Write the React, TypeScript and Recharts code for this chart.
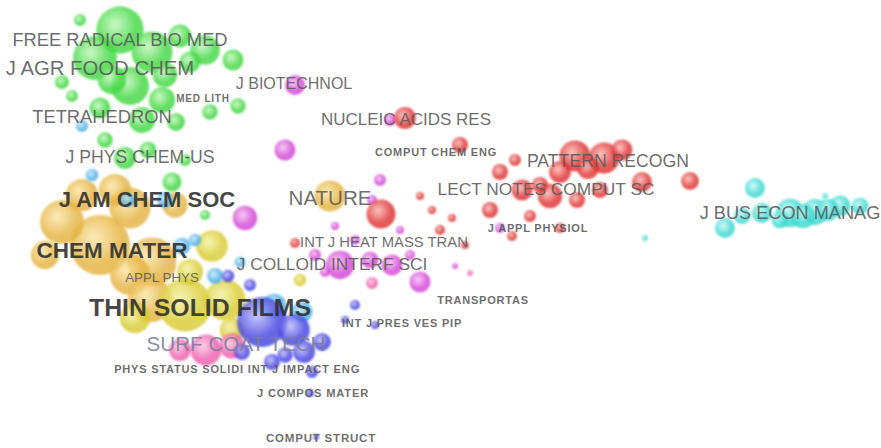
import React from 'react';
import { ScatterChart, Scatter, XAxis, YAxis, ZAxis } from 'recharts';

// map coordinates (x, y) and item weight w (bubble area ~ w)
const green = [
  { x: 120, y: 30, w: 560 }, { x: 95, y: 58, w: 480 }, { x: 152, y: 52, w: 420 },
  { x: 130, y: 86, w: 360 }, { x: 80, y: 20, w: 36 }, { x: 205, y: 50, w: 220 },
  { x: 233, y: 60, w: 110 }, { x: 180, y: 36, w: 130 }, { x: 162, y: 100, w: 170 },
  { x: 142, y: 120, w: 170 }, { x: 176, y: 122, w: 80 }, { x: 238, y: 106, w: 60 },
  { x: 72, y: 96, w: 36 }, { x: 105, y: 140, w: 60 }, { x: 125, y: 158, w: 120 },
  { x: 148, y: 150, w: 70 }, { x: 172, y: 182, w: 90 }, { x: 205, y: 215, w: 25 },
  { x: 210, y: 112, w: 60 }, { x: 100, y: 108, w: 110 }, { x: 62, y: 82, w: 50 },
  { x: 185, y: 160, w: 36 }, { x: 112, y: 80, w: 200 }, { x: 165, y: 75, w: 150 },
  { x: 190, y: 62, w: 110 },
];
const gold = [
  { x: 100, y: 245, w: 900 }, { x: 62, y: 222, w: 480 }, { x: 130, y: 208, w: 420 },
  { x: 152, y: 262, w: 600 }, { x: 330, y: 196, w: 240 }, { x: 82, y: 195, w: 260 },
  { x: 45, y: 255, w: 200 }, { x: 115, y: 190, w: 260 }, { x: 175, y: 205, w: 160 },
  { x: 130, y: 275, w: 400 }, { x: 150, y: 300, w: 500 },
];
const yellow = [
  { x: 185, y: 305, w: 700 }, { x: 225, y: 300, w: 420 }, { x: 212, y: 246, w: 250 },
  { x: 135, y: 318, w: 230 }, { x: 232, y: 330, w: 150 }, { x: 190, y: 272, w: 170 },
  { x: 300, y: 280, w: 40 },
];
const lightBlue = [
  { x: 82, y: 126, w: 36 }, { x: 92, y: 175, w: 40 }, { x: 165, y: 200, w: 64 },
  { x: 182, y: 246, w: 70 }, { x: 215, y: 276, w: 64 }, { x: 302, y: 312, w: 110 },
  { x: 274, y: 306, w: 150 }, { x: 195, y: 240, w: 40 }, { x: 240, y: 262, w: 30 },
  { x: 128, y: 200, w: 50 },
];
const blue = [
  { x: 262, y: 322, w: 620 }, { x: 294, y: 330, w: 250 }, { x: 304, y: 352, w: 120 },
  { x: 242, y: 352, w: 64 }, { x: 322, y: 342, w: 80 }, { x: 272, y: 362, w: 64 },
  { x: 355, y: 305, w: 25 }, { x: 312, y: 372, w: 36 }, { x: 345, y: 320, w: 16 },
  { x: 375, y: 325, w: 16 }, { x: 310, y: 393, w: 16 }, { x: 316, y: 437, w: 9 },
  { x: 250, y: 285, w: 36 }, { x: 228, y: 276, w: 40 }, { x: 285, y: 355, w: 60 },
];
const pink = [
  { x: 206, y: 350, w: 240 }, { x: 232, y: 346, w: 160 }, { x: 180, y: 350, w: 120 },
  { x: 372, y: 283, w: 36 }, { x: 470, y: 273, w: 9 },
];
const magenta = [
  { x: 295, y: 85, w: 100 }, { x: 285, y: 150, w: 110 }, { x: 245, y: 218, w: 150 },
  { x: 380, y: 180, w: 36 }, { x: 372, y: 200, w: 25 }, { x: 340, y: 265, w: 200 },
  { x: 392, y: 265, w: 110 }, { x: 420, y: 282, w: 110 }, { x: 370, y: 260, w: 70 },
  { x: 355, y: 240, w: 25 }, { x: 400, y: 230, w: 16 }, { x: 410, y: 255, w: 25 },
  { x: 455, y: 266, w: 9 }, { x: 335, y: 226, w: 16 }, { x: 315, y: 255, w: 36 },
  { x: 325, y: 272, w: 25 }, { x: 390, y: 120, w: 36 }, { x: 500, y: 228, w: 25 },
];
const red = [
  { x: 405, y: 118, w: 120 }, { x: 381, y: 214, w: 210 }, { x: 440, y: 230, w: 25 },
  { x: 460, y: 145, w: 64 }, { x: 500, y: 172, w: 64 }, { x: 522, y: 190, w: 110 },
  { x: 490, y: 210, w: 64 }, { x: 550, y: 196, w: 150 }, { x: 575, y: 156, w: 240 },
  { x: 604, y: 158, w: 240 }, { x: 622, y: 150, w: 110 }, { x: 560, y: 172, w: 120 },
  { x: 642, y: 182, w: 100 }, { x: 690, y: 181, w: 80 }, { x: 530, y: 216, w: 36 },
  { x: 560, y: 228, w: 25 }, { x: 420, y: 196, w: 16 }, { x: 432, y: 210, w: 16 },
  { x: 577, y: 200, w: 64 }, { x: 515, y: 160, w: 36 }, { x: 600, y: 190, w: 64 },
  { x: 540, y: 185, w: 64 }, { x: 295, y: 243, w: 25 }, { x: 465, y: 245, w: 16 },
  { x: 452, y: 218, w: 16 }, { x: 512, y: 236, w: 25 }, { x: 588, y: 168, w: 120 },
];
const cyan = [
  { x: 755, y: 188, w: 100 }, { x: 725, y: 228, w: 100 }, { x: 742, y: 216, w: 64 },
  { x: 762, y: 213, w: 100 }, { x: 790, y: 213, w: 200 }, { x: 815, y: 212, w: 170 },
  { x: 840, y: 206, w: 110 }, { x: 860, y: 206, w: 70 }, { x: 780, y: 220, w: 70 },
  { x: 645, y: 238, w: 9 }, { x: 825, y: 196, w: 9 }, { x: 803, y: 216, w: 150 },
  { x: 828, y: 210, w: 120 },
];

// labelled items: name, map position and weight (font size follows weight)
const labels = [
  { name: 'FREE RADICAL BIO MED', x: 120, y: 39, w: 74 },
  { name: 'J AGR FOOD CHEM', x: 100, y: 68, w: 86 },
  { name: 'TETRAHEDRON', x: 102, y: 116, w: 74 },
  { name: 'MED LITH', x: 203, y: 98, w: 24 },
  { name: 'J BIOTECHNOL', x: 294, y: 83, w: 60 },
  { name: 'NUCLEIC ACIDS RES', x: 406, y: 119, w: 66 },
  { name: 'COMPUT CHEM ENG', x: 436, y: 152, w: 30 },
  { name: 'PATTERN RECOGN', x: 608, y: 161, w: 70 },
  { name: 'LECT NOTES COMPUT SC', x: 546, y: 189, w: 68 },
  { name: 'J BUS ECON MANAG', x: 790, y: 213, w: 73 },
  { name: 'J PHYS CHEM-US', x: 140, y: 157, w: 70 },
  { name: 'J AM CHEM SOC', x: 147, y: 199, w: 96 },
  { name: 'NATURE', x: 330, y: 197, w: 87 },
  { name: 'CHEM MATER', x: 112, y: 250, w: 99 },
  { name: 'INT J HEAT MASS TRAN', x: 384, y: 242, w: 53 },
  { name: 'J APPL PHYSIOL', x: 538, y: 228, w: 30 },
  { name: 'J COLLOID INTERF SCI', x: 332, y: 264, w: 68 },
  { name: 'APPL PHYS', x: 162, y: 277, w: 44 },
  { name: 'THIN SOLID FILMS', x: 200, y: 307, w: 113 },
  { name: 'TRANSPORTAS', x: 483, y: 300, w: 30 },
  { name: 'INT J PRES VES PIP', x: 402, y: 323, w: 30 },
  { name: 'SURF COAT TECH', x: 236, y: 343, w: 88 },
  { name: 'PHYS STATUS SOLIDI', x: 179, y: 369, w: 30 },
  { name: 'INT J IMPACT ENG', x: 304, y: 369, w: 31 },
  { name: 'J COMPOS MATER', x: 313, y: 393, w: 31 },
  { name: 'COMPUT STRUCT', x: 321, y: 438, w: 33 },
];

const clusters = [
  { id: 'green', data: green, light: '#bff7b8', base: '#43d843' },
  { id: 'gold', data: gold, light: '#fbe6a8', base: '#e5b442' },
  { id: 'yellow', data: yellow, light: '#f4f2a0', base: '#d8cc34' },
  { id: 'lightBlue', data: lightBlue, light: '#c2e8fb', base: '#4fb0e6' },
  { id: 'pink', data: pink, light: '#fcc6e2', base: '#ef5fae' },
  { id: 'magenta', data: magenta, light: '#f6bdf6', base: '#d447d6' },
  { id: 'red', data: red, light: '#fbb6b2', base: '#df3434' },
  { id: 'cyan', data: cyan, light: '#c2f8f4', base: '#3fd8d2' },
  { id: 'blue', data: blue, light: '#b8b8fb', base: '#4646e0' },
];

const LabelShape = (props: any) => {
  const { cx, cy, payload } = props;
  const fs = 6 + payload.w / 6;
  const small = payload.w <= 33;
  const strong = payload.w >= 95;
  const fill = strong ? '#2c2c2c' : payload.name === 'SURF COAT TECH' ? '#7c7c98' : '#585858';
  return (
    <text
      x={cx}
      y={cy}
      textAnchor="middle"
      dominantBaseline="central"
      fontSize={fs}
      fontWeight={small || strong ? 700 : 400}
      letterSpacing={small ? 0.8 : 0}
      fill={fill}
      fillOpacity={0.88}
      fontFamily="'Liberation Sans', Arial, sans-serif"
    >
      {payload.name}
    </text>
  );
};

export default function App() {
  return (
    <div style={{ position: 'absolute', left: 0, top: 0, width: 881, height: 448, background: '#fff' }}>
      <style>{'.recharts-scatter circle, .recharts-scatter path { filter: blur(0.8px); }'}</style>
      <svg width={0} height={0} style={{ position: 'absolute' }}>
        <defs>
          {clusters.map((c) => (
            <radialGradient key={c.id} id={`g-${c.id}`} cx="40%" cy="38%" r="62%">
              <stop offset="0%" stopColor={c.light} />
              <stop offset="70%" stopColor={c.base} />
              <stop offset="100%" stopColor={c.base} />
            </radialGradient>
          ))}
        </defs>
      </svg>
      <ScatterChart width={881} height={448} margin={{ top: 0, right: 0, bottom: 0, left: 0 }}>
        <XAxis type="number" dataKey="x" domain={[0, 881]} hide />
        <YAxis type="number" dataKey="y" domain={[0, 448]} reversed hide />
        <ZAxis type="number" dataKey="w" domain={[0, 1000]} range={[0, 1000 * Math.PI]} />
        {clusters.map((c) => (
          <Scatter
            key={c.id}
            name={c.id}
            data={c.data}
            fill={`url(#g-${c.id})`}
            fillOpacity={0.82}
            isAnimationActive={false}
          />
        ))}
        <Scatter name="labels" data={labels} shape={<LabelShape />} isAnimationActive={false} />
      </ScatterChart>
    </div>
  );
}
